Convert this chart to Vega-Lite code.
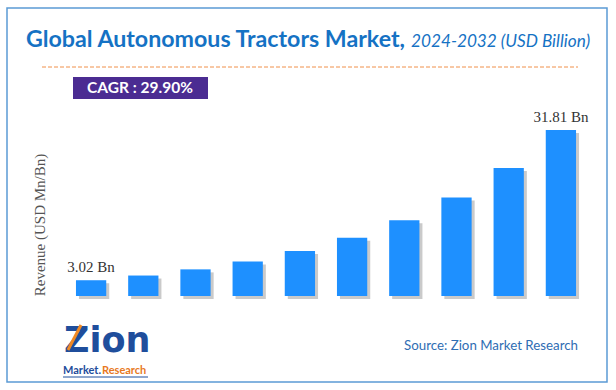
{
  "$schema": "https://vega.github.io/schema/vega-lite/v6.json",
  "autosize": {"type": "none"},
  "width": 522,
  "height": 188,
  "padding": {"left": 65, "top": 108, "right": 29, "bottom": 94},
  "background": "white",
  "config": {"view": {"stroke": null}},
  "datasets": {
    "market": [
      {"year": "2023", "revenue": 3.02, "label": "3.02 Bn"},
      {"year": "2024", "revenue": 3.92, "label": ""},
      {"year": "2025", "revenue": 5.10, "label": ""},
      {"year": "2026", "revenue": 6.62, "label": ""},
      {"year": "2027", "revenue": 8.60, "label": ""},
      {"year": "2028", "revenue": 11.17, "label": ""},
      {"year": "2029", "revenue": 14.51, "label": ""},
      {"year": "2030", "revenue": 18.85, "label": ""},
      {"year": "2031", "revenue": 24.49, "label": ""},
      {"year": "2032", "revenue": 31.81, "label": "31.81 Bn"}
    ],
    "deco": [{"k": 1}]
  },
  "layer": [
    {
      "data": {"name": "deco"},
      "mark": {"type": "rect", "fill": null, "stroke": "#5b9bd5", "strokeWidth": 1.5, "clip": false},
      "encoding": {"x": {"value": -58}, "x2": {"value": 542}, "y": {"value": -100}, "y2": {"value": 274}}
    },
    {
      "data": {"name": "deco"},
      "mark": {"type": "text", "text": "Global Autonomous Tractors Market,", "font": "Lato", "fontSize": 23.2, "fontWeight": "bold", "color": "#1572c4", "align": "left", "baseline": "alphabetic"},
      "encoding": {"x": {"value": -39}, "y": {"value": -61}}
    },
    {
      "data": {"name": "deco"},
      "mark": {"type": "text", "text": "2024-2032 (USD Billion)", "font": "Lato", "fontSize": 17.2, "fontStyle": "italic", "color": "#1572c4", "align": "left", "baseline": "alphabetic"},
      "encoding": {"x": {"value": 346}, "y": {"value": -61}}
    },
    {
      "data": {"name": "deco"},
      "mark": {"type": "rule", "stroke": "#f0904a", "strokeWidth": 1, "strokeDash": [4, 2]},
      "encoding": {"x": {"value": -23}, "x2": {"value": 513}, "y": {"value": -41}}
    },
    {
      "data": {"name": "deco"},
      "mark": {"type": "rect", "fill": "#4b2c92"},
      "encoding": {"x": {"value": 8}, "x2": {"value": 143}, "y": {"value": -31}, "y2": {"value": -9}}
    },
    {
      "data": {"name": "deco"},
      "mark": {"type": "text", "text": "CAGR :  29.90%", "font": "Lato", "fontSize": 15.5, "fontWeight": "bold", "color": "white", "align": "center", "baseline": "middle"},
      "encoding": {"x": {"value": 75}, "y": {"value": -20}}
    },
    {
      "data": {"name": "deco"},
      "mark": {"type": "text", "text": "Revenue (USD Mn/Bn)", "font": "Liberation Serif", "fontSize": 15, "color": "#555555", "align": "center", "baseline": "middle", "angle": 270},
      "encoding": {"x": {"value": -25}, "y": {"value": 117}}
    },
    {
      "data": {"name": "deco"},
      "mark": {"type": "text", "text": "Source: Zion Market Research", "font": "Lato", "fontSize": 13.3, "color": "#2f6db3", "align": "left", "baseline": "middle"},
      "encoding": {"x": {"value": 339}, "y": {"value": 238}}
    },
    {
      "data": {"name": "deco"},
      "mark": {"type": "text", "text": "Zion", "font": "DejaVu Sans", "fontSize": 35, "fontWeight": "bold", "color": "#1f4e9c", "align": "left", "baseline": "alphabetic"},
      "encoding": {"x": {"value": -1}, "y": {"value": 244}}
    },
    {
      "data": {"name": "deco"},
      "mark": {"type": "rule", "stroke": "#f08a24", "strokeWidth": 3},
      "encoding": {"x": {"value": 3}, "x2": {"value": 16}, "y": {"value": 242}, "y2": {"value": 217}}
    },
    {
      "data": {"name": "deco"},
      "mark": {"type": "text", "text": "Market.", "font": "Lato", "fontSize": 11, "fontWeight": "bold", "color": "#1f4e9c", "align": "left", "baseline": "alphabetic"},
      "encoding": {"x": {"value": -2}, "y": {"value": 266}}
    },
    {
      "data": {"name": "deco"},
      "mark": {"type": "text", "text": "Research", "font": "Lato", "fontSize": 11, "fontWeight": "bold", "color": "#e8791e", "align": "left", "baseline": "alphabetic"},
      "encoding": {"x": {"value": 37}, "y": {"value": 266}}
    },
    {
      "data": {"name": "deco"},
      "mark": {"type": "rule", "stroke": "#1f4e9c", "strokeWidth": 1},
      "encoding": {"x": {"value": -2}, "x2": {"value": 83}, "y": {"value": 269}}
    },
    {
      "data": {"name": "market"},
      "mark": {"type": "bar", "color": "#8a8a8a", "opacity": 0.45, "xOffset": 3, "yOffset": 3},
      "encoding": {
        "x": {"field": "year", "type": "ordinal", "scale": {"paddingInner": 0.42, "paddingOuter": 0.21}, "axis": null},
        "y": {"field": "revenue", "type": "quantitative", "scale": {"domain": [0, 36], "nice": false}, "axis": null}
      }
    },
    {
      "data": {"name": "market"},
      "mark": {"type": "bar", "color": "#1e90ff"},
      "encoding": {
        "x": {"field": "year", "type": "ordinal", "scale": {"paddingInner": 0.42, "paddingOuter": 0.21},
          "axis": {"title": null, "labelAngle": 0, "labelFont": "Liberation Sans", "labelFontSize": 13, "labelColor": "#444444", "labelPadding": 7, "ticks": false, "domainColor": "#d4d4d4", "domainWidth": 1.5}},
        "y": {"field": "revenue", "type": "quantitative", "scale": {"domain": [0, 36], "nice": false}, "axis": null}
      }
    },
    {
      "data": {"name": "market"},
      "mark": {"type": "text", "font": "Liberation Serif", "fontSize": 15, "color": "#333333", "baseline": "alphabetic", "dy": -8},
      "encoding": {
        "x": {"field": "year", "type": "ordinal"},
        "y": {"field": "revenue", "type": "quantitative", "axis": null},
        "text": {"field": "label"}
      }
    }
  ]
}
